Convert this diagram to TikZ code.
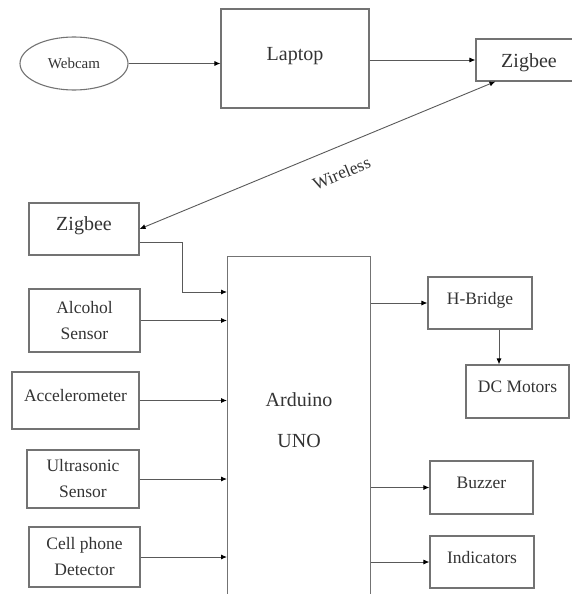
\documentclass[tikz,border=0pt]{standalone}
\usepackage{fontspec}
\setmainfont{Liberation Serif}
\usetikzlibrary{arrows.meta, shapes.geometric}

\newcommand{\boxfont}{\fontsize{17.5pt}{26pt}\selectfont}
\newcommand{\bigfont}{\fontsize{20pt}{24pt}\selectfont}
\newcommand{\camfont}{\fontsize{15pt}{18pt}\selectfont}

\begin{document}
\begin{tikzpicture}[x=1pt, y=-1pt,
  block/.style={rectangle, draw=black!55, line width=1.1pt, text=black!80, font=\boxfont, inner sep=0pt},
  oneline/.style={text height=12pt, text depth=4pt},
  lifted/.style={text depth=10pt},
  bigline/.style={font=\bigfont, text height=14pt, text depth=5pt},
  link/.style={-{Latex[length=6pt, width=5pt, color=black]}, draw=black!65, line width=0.9pt}]
  \useasboundingbox (0,0) rectangle (571,594);

  % Nodes
  \node[ellipse, draw=black!55, line width=1.1pt, text=black!80, font=\camfont,
        minimum width=108pt, minimum height=53pt, inner sep=0pt] (webcam) at (74,63.5) {Webcam};
  \node[block, bigline, text depth=10pt, minimum width=148pt, minimum height=99pt] (laptop) at (295,58.5) {Laptop};
  \node[block, bigline, text height=18pt, text depth=3pt, minimum width=106pt, minimum height=42pt] (zigR) at (529,60) {Zigbee};
  \node[block, bigline, text depth=11pt, minimum width=110pt, minimum height=52pt] (zigL) at (84,229) {Zigbee};

  \node[block, align=center, minimum width=111pt, minimum height=63pt] (alcohol) at (84.5,320.5) {Alcohol\\Sensor};
  \node[block, oneline, lifted, minimum width=127pt, minimum height=57pt] (accel) at (75.5,400.5) {Accelerometer};
  \node[block, align=center, minimum width=112pt, minimum height=58pt] (ultra) at (83,479) {Ultrasonic\\Sensor};
  \node[block, align=center, minimum width=111pt, minimum height=60pt] (cell) at (84.5,557) {Cell phone\\Detector};

  \node[block, font=\bigfont, align=center, text height=0pt, text depth=38pt,
        minimum width=143pt, minimum height=420pt, anchor=north west] (arduino) at (227,256) {Arduino\\[17pt]UNO};

  \node[block, oneline, lifted, minimum width=104pt, minimum height=52pt] (hbridge) at (480,303) {H-Bridge};
  \node[block, oneline, lifted, minimum width=103pt, minimum height=53pt] (motors) at (517.5,391.5) {DC Motors};
  \node[block, oneline, lifted, minimum width=103pt, minimum height=53pt] (buzzer) at (481.5,487.5) {Buzzer};
  \node[block, oneline, lifted, minimum width=104pt, minimum height=52pt] (indic) at (482,562) {Indicators};

  % Edges
  \draw[link] (webcam.east) -- (webcam.east -| laptop.west);
  \draw[link] (laptop.east |- zigR.west) -- (zigR.west);
  \draw[link, {Latex[length=6pt, width=5pt, color=black]}-{Latex[length=6pt, width=5pt, color=black]}]
    (zigL.east) -- ([xshift=20pt]zigR.south west)
    node[pos=0.54, sloped, below=19pt, font=\boxfont, text=black!80, inner sep=0pt] {Wireless};
  \draw[link] ([yshift=-13pt]zigL.east) -- ++(43,0) |- ([yshift=-36pt]arduino.north west);
  \draw[link] (alcohol.east) -- (alcohol.east -| arduino.west);
  \draw[link] (accel.east) -- (accel.east -| arduino.west);
  \draw[link] (ultra.east) -- (ultra.east -| arduino.west);
  \draw[link] (cell.east) -- (cell.east -| arduino.west);
  \draw[link] (arduino.east |- hbridge.west) -- (hbridge.west);
  \draw[link] ([xshift=19pt]hbridge.south) -- ([xshift=19pt]hbridge.south |- motors.north);
  \draw[link] (arduino.east |- buzzer.west) -- (buzzer.west);
  \draw[link] (arduino.east |- indic.west) -- (indic.west);
\end{tikzpicture}
\end{document}
